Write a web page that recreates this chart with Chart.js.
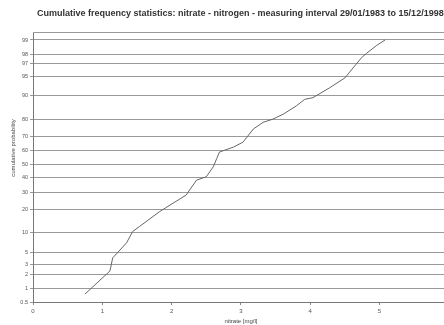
<!DOCTYPE html>
<html><head><meta charset="utf-8">
<script src="https://cdn.jsdelivr.net/npm/chart.js@4"></script>
<style>html,body{margin:0;padding:0;background:#fff;overflow:hidden}#c{display:block}</style>
</head><body><canvas id="c" width="444" height="325"></canvas>
<script>
const titleText = "Cumulative frequency statistics: nitrate - nitrogen - measuring interval 29/01/1983 to 15/12/1998";
const yTitle = "cumulative probability";
const xTitle = "nitrate [mg/l]";
const concentration = [0.75,1.11,1.15,1.35,1.44,1.54,1.83,2.21,2.36,2.50,2.60,2.65,2.69,2.89,3.03,3.18,3.32,3.46,3.61,3.80,3.92,4.04,4.28,4.50,4.64,4.74,4.81,4.96,5.08];
const cumulativePercent = [0.76,2.3,4.0,7.1,10.5,12.3,18.9,28.3,38.4,40.8,48.1,54.2,59.1,62.6,66.1,74.6,78.4,80.1,82.6,86.3,88.8,89.4,92.4,94.7,96.7,97.7,98.1,98.7,99.0];
const probabilityTicks = [0.5,1,2,3,5,10,20,30,40,50,60,70,80,90,95,97,98,99];
const xTicks = [0,1,2,3,4,5];

// inverse of the standard normal CDF (probability-paper axis transform)
function probit(p){
  const a=[-3.969683028665376e+01,2.209460984245205e+02,-2.759285104469687e+02,1.383577518672690e+02,-3.066479806614716e+01,2.506628277459239e+00];
  const b=[-5.447609879822406e+01,1.615858368580409e+02,-1.556989798598866e+02,6.680131188771972e+01,-1.328068155288572e+01];
  const c=[-7.784894002430293e-03,-3.223964580411365e-01,-2.400758277161838e+00,-2.549732539343734e+00,4.374664141464968e+00,2.938163982698783e+00];
  const d=[7.784695709041462e-03,3.224671290700398e-01,2.445134137142996e+00,3.754408661907416e+00];
  const pl=0.02425, ph=1-pl; let q,r;
  if(p<pl){q=Math.sqrt(-2*Math.log(p));return (((((c[0]*q+c[1])*q+c[2])*q+c[3])*q+c[4])*q+c[5])/((((d[0]*q+d[1])*q+d[2])*q+d[3])*q+1);}
  if(p<=ph){q=p-0.5;r=q*q;return (((((a[0]*r+a[1])*r+a[2])*r+a[3])*r+a[4])*r+a[5])*q/(((((b[0]*r+b[1])*r+b[2])*r+b[3])*r+b[4])*r+1);}
  q=Math.sqrt(-2*Math.log(1-p));return -(((((c[0]*q+c[1])*q+c[2])*q+c[3])*q+c[4])*q+c[5])/((((d[0]*q+d[1])*q+d[2])*q+d[3])*q+1);
}

const points = concentration.map((x,i)=>({x:x, y:probit(cumulativePercent[i]/100)}));

const textPlugin = {
  id:'texts',
  beforeDatasetsDraw(chart){
    const ctx=chart.ctx, a=chart.chartArea; ctx.save();
    ctx.strokeStyle='#999'; ctx.lineWidth=1;
    ctx.beginPath(); ctx.moveTo(a.left,a.top+0.5); ctx.lineTo(a.right,a.top+0.5); ctx.stroke();
    ctx.restore();
  },
  afterDraw(chart){
    const ctx=chart.ctx; ctx.save();
    ctx.fillStyle='#333'; ctx.textBaseline='middle';
    ctx.font='bold 9px "Liberation Sans", Arial, sans-serif';
    ctx.textAlign='left'; ctx.fillText(titleText,37,14);
    ctx.font='6px "Liberation Sans", Arial, sans-serif'; ctx.fillStyle='#444';
    ctx.textAlign='center'; ctx.fillText(xTitle,241,321);
    ctx.translate(13,148); ctx.rotate(-Math.PI/2); ctx.fillText(yTitle,0,0);
    ctx.restore();
  }
};

new Chart(document.getElementById('c'),{
  type:'line',
  data:{datasets:[{data:points,borderColor:'#666',borderWidth:1,pointRadius:0,tension:0,fill:false}]},
  options:{
    responsive:false,animation:false,
    layout:{padding:{top:32,right:0,left:0,bottom:0}},
    plugins:{legend:{display:false},title:{display:false},tooltip:{enabled:false}},
    scales:{
      x:{type:'linear',min:0,max:5.93,
        afterBuildTicks(s){s.ticks=xTicks.map(v=>({value:v}));},
        afterFit(s){s.height=23;},
        grid:{drawOnChartArea:false,drawTicks:true,tickLength:3,color:'#888'},
        border:{display:true,color:'#777'},
        ticks:{font:{size:6,family:'"Liberation Sans", Arial'},color:'#555',padding:3,maxRotation:0,autoSkip:false,callback:(v)=>String(v)}
      },
      y:{type:'linear',min:probit(0.005),max:2.476,
        afterBuildTicks(s){s.ticks=probabilityTicks.map(p=>({value:probit(p/100)}));},
        afterFit(s){s.width=33;},
        grid:{color:'#999',lineWidth:1,tickLength:3},
        border:{display:true,color:'#777'},
        ticks:{font:{size:5.5,family:'"Liberation Sans", Arial'},color:'#555',padding:2,autoSkip:false,
          callback:(v,i)=>String(probabilityTicks[i])}
      }
    }
  },
  plugins:[textPlugin]
});
</script>
</body></html>
